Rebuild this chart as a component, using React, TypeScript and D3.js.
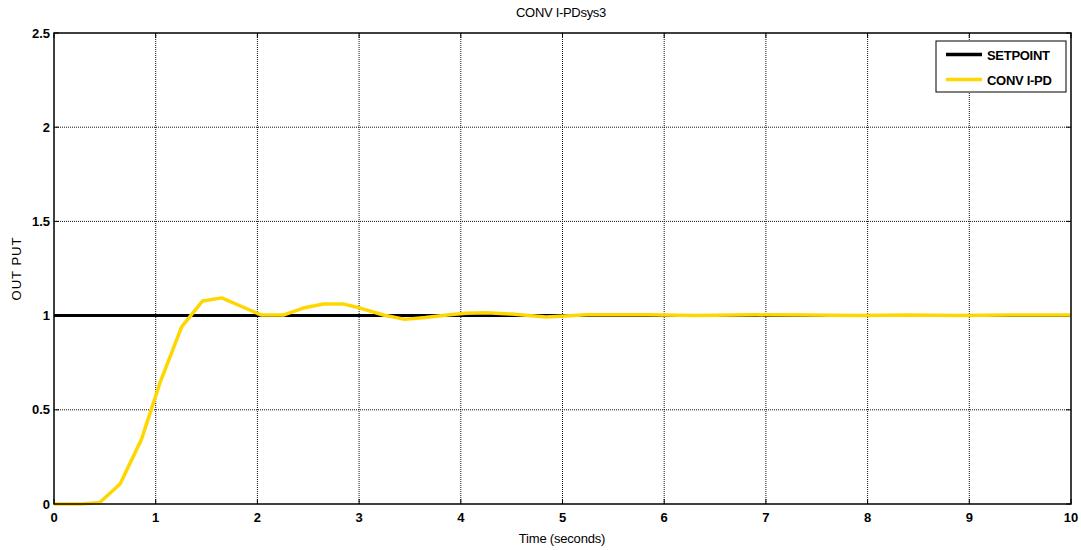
import React from "react";
import * as d3 from "d3";

const title = "CONV I-PDsys3";
const xLabel = "Time (seconds)";
const yLabel = "OUT PUT";
const xTicks = [0, 1, 2, 3, 4, 5, 6, 7, 8, 9, 10];
const yTicks = [0, 0.5, 1, 1.5, 2, 2.5];
const yTickLabels = ["0", "0.5", "1", "1.5", "2", "2.5"];

const setpointTime = [0, 10];
const setpointValue = [1, 1];

const responseTime = [0, 0.27, 0.45, 0.65, 0.86, 1.04, 1.255, 1.46, 1.65, 1.85, 2.04, 2.255, 2.45, 2.65, 2.84, 3.01, 3.24, 3.45, 3.65, 3.89, 4.05, 4.25, 4.5, 4.84, 5.24, 5.83, 6.3, 6.9, 7.4, 7.9, 8.4, 8.9, 9.4, 10];
const responseValue = [0, 0, 0.008, 0.106, 0.343, 0.64, 0.94, 1.077, 1.094, 1.047, 1.003, 1.003, 1.04, 1.062, 1.062, 1.04, 1.003, 0.98, 0.99, 1.005, 1.012, 1.015, 1.008, 0.993, 1.005, 1.004, 1.0, 1.004, 1.003, 1.0, 1.003, 1.0, 1.003, 1.003];

const legendNames = ["SETPOINT", "CONV I-PD"];
const legendColors = ["#000000", "#FFD700"];

export default function App() {
  const W = 1081, H = 550;
  const left = 54, right = 1071, top = 33, bottom = 504;
  const x = d3.scaleLinear().domain([0, 10]).range([left, right]);
  const y = d3.scaleLinear().domain([0, 2.5]).range([bottom, top]);
  const line = d3.line<[number, number]>().x(d => x(d[0])).y(d => y(d[1]));
  const spPts = setpointTime.map((t, i) => [t, setpointValue[i]] as [number, number]);
  const rPts = responseTime.map((t, i) => [t, responseValue[i]] as [number, number]);
  const font = "'Liberation Sans', Arial, sans-serif";
  return (
    <svg width={W} height={H} style={{ position: "absolute", left: 0, top: 0, background: "#fff" }} fontFamily={font}>
      <rect x={0} y={0} width={W} height={H} fill="#fff" />
      {/* grid */}
      {xTicks.slice(1, -1).map(t => (
        <line key={"gx" + t} x1={x(t)} x2={x(t)} y1={top} y2={bottom} stroke="#111" strokeWidth={1} strokeDasharray="1,1" />
      ))}
      {yTicks.slice(1, -1).map(t => (
        <line key={"gy" + t} x1={left} x2={right} y1={y(t)} y2={y(t)} stroke="#111" strokeWidth={1} strokeDasharray="1,1" />
      ))}
      {/* ticks */}
      {xTicks.map(t => (
        <g key={"tx" + t}>
          <line x1={x(t)} x2={x(t)} y1={bottom} y2={bottom - 5} stroke="#000" />
          <line x1={x(t)} x2={x(t)} y1={top} y2={top + 5} stroke="#000" />
          <text x={x(t)} y={522} textAnchor="middle" fontSize={13} fontWeight="bold">{t}</text>
        </g>
      ))}
      {yTicks.map((t, i) => (
        <g key={"ty" + t}>
          <line x1={left} x2={left + 5} y1={y(t)} y2={y(t)} stroke="#000" />
          <line x1={right} x2={right - 5} y1={y(t)} y2={y(t)} stroke="#000" />
          <text x={50} y={y(t) + 4.5} textAnchor="end" fontSize={13} fontWeight="bold">{yTickLabels[i]}</text>
        </g>
      ))}
      {/* data */}
      <path d={line(spPts) || ""} fill="none" stroke={legendColors[0]} strokeWidth={3} />
      <path d={line(rPts) || ""} fill="none" stroke={legendColors[1]} strokeWidth={3.5} strokeLinejoin="round" />
      {/* frame */}
      <rect x={left} y={top} width={right - left} height={bottom - top} fill="none" stroke="#000" strokeWidth={1.5} />
      {/* labels */}
      <text x={561} y={17} textAnchor="middle" fontSize={13} letterSpacing={-0.3}>{title}</text>
      <text x={562} y={543} textAnchor="middle" fontSize={13} letterSpacing={-0.2}>{xLabel}</text>
      <text transform={`translate(21,${(top + bottom) / 2}) rotate(-90)`} textAnchor="middle" fontSize={13} letterSpacing={1}>{yLabel}</text>
      {/* legend */}
      <rect x={936} y={41} width={130} height={51} fill="#fff" stroke="#000" strokeWidth={1} />
      {legendNames.map((n, i) => (
        <g key={n}>
          <line x1={946} x2={982} y1={54.5 + i * 25} y2={54.5 + i * 25} stroke={legendColors[i]} strokeWidth={3.5} />
          <text x={987} y={59.5 + i * 25} fontSize={13} fontWeight="bold" letterSpacing={-0.3}>{n}</text>
        </g>
      ))}
    </svg>
  );
}
